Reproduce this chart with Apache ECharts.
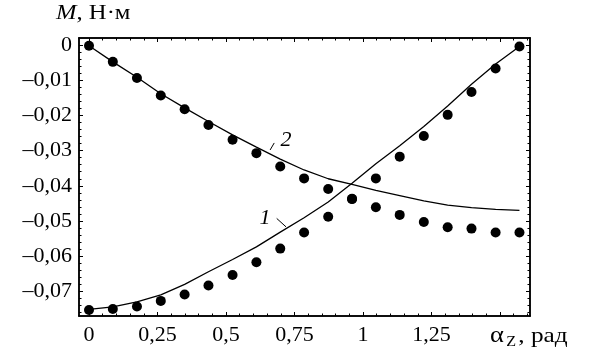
<!DOCTYPE html>
<html>
<head>
<meta charset="utf-8">
<script src="https://cdn.jsdelivr.net/npm/echarts@6/dist/echarts.min.js"></script>
<style>
  html, body { margin: 0; padding: 0; background: #fff; }
  #chart { width: 591px; height: 357px; }
</style>
</head>
<body>
<div id="chart"></div>
<script>
// angle alpha_z, rad (5 degree steps)
var alpha = [0, 0.087, 0.175, 0.262, 0.349, 0.436, 0.524, 0.611, 0.698, 0.785,
             0.873, 0.960, 1.047, 1.134, 1.222, 1.309, 1.396, 1.484, 1.571];
// measured points, N*m
var dots1 = [-0.0754, -0.0751, -0.0744, -0.0728, -0.0710, -0.0684, -0.0654, -0.0618, -0.0579, -0.0533,
             -0.0488, -0.0438, -0.0379, -0.0317, -0.0258, -0.0198, -0.0133, -0.0066, -0.0003];
var dots2 = [-0.0001, -0.0047, -0.0093, -0.0143, -0.0182, -0.0227, -0.0269, -0.0307, -0.0345, -0.0379,
             -0.0409, -0.0437, -0.0461, -0.0483, -0.0503, -0.0518, -0.0522, -0.0533, -0.0533];
// calculated curves 1 and 2
var curve1 = [-0.0752, -0.0745, -0.0731, -0.0711, -0.0681, -0.0645, -0.0610, -0.0574, -0.0532, -0.0491,
              -0.0446, -0.0393, -0.0337, -0.0286, -0.0231, -0.0173, -0.0111, -0.0053, -0.0003];
var curve2 = [-0.0001, -0.0047, -0.0091, -0.0138, -0.0178, -0.0217, -0.0255, -0.0290, -0.0324, -0.0355,
              -0.0380, -0.0396, -0.0413, -0.0428, -0.0443, -0.0455, -0.0462, -0.0467, -0.0470];

var xTicks = [0, 0.25, 0.5, 0.75, 1, 1.25, 1.5];
var xTickLabels = ['0', '0,25', '0,5', '0,75', '1', '1,25', ''];
var yTicks = [0, -0.01, -0.02, -0.03, -0.04, -0.05, -0.06, -0.07];
var yTickLabels = ['0', '\u20130,01', '\u20130,02', '\u20130,03', '\u20130,04', '\u20130,05', '\u20130,06', '\u20130,07'];

var xMin = -0.0365, xMax = 1.6095;
var yMin = -0.0771, yMax = 0.0021;

var xMinor = [];
for (var i = 1; i <= 32; i++) xMinor.push(+(i * 0.05).toFixed(2));
var yMinor = [];
for (var j = -1; j >= -38; j--) yMinor.push(+(j * 0.002).toFixed(3));

var FONT = '"Liberation Serif", "DejaVu Serif", serif';

function pairs(xs, ys) {
  var out = [];
  for (var k = 0; k < xs.length; k++) out.push([xs[k], ys[k]]);
  return out;
}

function xAx(pos, vals, len, labels) {
  return {
    type: 'value', position: pos, min: xMin, max: xMax,
    axisLine: { show: true, onZero: false, lineStyle: { color: '#000', width: 1.5 } },
    axisTick: { show: true, inside: true, length: len, customValues: vals, lineStyle: { color: '#000', width: 1 } },
    axisLabel: labels ? {
      show: true, customValues: xTicks.slice(0, 6), margin: 8,
      fontFamily: FONT, fontSize: 22, color: '#000',
      formatter: function (v) {
        for (var k = 0; k < xTicks.length; k++) if (Math.abs(xTicks[k] - v) < 1e-6) return xTickLabels[k];
        return '';
      }
    } : { show: false },
    splitLine: { show: false }
  };
}

function yAx(pos, vals, len, labels) {
  return {
    type: 'value', position: pos, min: yMin, max: yMax,
    axisLine: { show: true, onZero: false, lineStyle: { color: '#000', width: 1.5 } },
    axisTick: { show: true, inside: true, length: len, customValues: vals, lineStyle: { color: '#000', width: 1 } },
    axisLabel: labels ? {
      show: true, customValues: yTicks, margin: 7,
      fontFamily: FONT, fontSize: 22, color: '#000',
      formatter: function (v) {
        for (var k = 0; k < yTicks.length; k++) if (Math.abs(yTicks[k] - v) < 1e-7) return yTickLabels[k];
        return '';
      }
    } : { show: false },
    splitLine: { show: false }
  };
}

var myChart = echarts.init(document.getElementById('chart'));

var option = {
  animation: false,
  grid: { left: 79, right: 61, top: 38, bottom: 41, containLabel: false },
  xAxis: [
    xAx('bottom', xTicks, 4, true),
    xAx('bottom', xMinor, 2.5, false),
    xAx('top', xTicks, 4, false),
    xAx('top', xMinor, 2.5, false)
  ],
  yAxis: [
    yAx('left', yTicks, 4, true),
    yAx('left', yMinor, 2.5, false),
    yAx('right', yTicks, 4, false),
    yAx('right', yMinor, 2.5, false)
  ],
  series: [
    {
      type: 'line', data: pairs(alpha, curve1), showSymbol: false, silent: true,
      lineStyle: { color: '#000', width: 1.3 }
    },
    {
      type: 'line', data: pairs(alpha, curve2), showSymbol: false, silent: true,
      lineStyle: { color: '#000', width: 1.3 }
    },
    {
      type: 'scatter', data: pairs(alpha, dots1), symbolSize: 10,
      itemStyle: { color: '#000', opacity: 1 }
    },
    {
      type: 'scatter', data: pairs(alpha, dots2), symbolSize: 10,
      itemStyle: { color: '#000', opacity: 1 }
    }
  ],
  graphic: [
    {
      type: 'text', x: 56, y: 2, scaleX: 1.12,
      style: {
        text: '{i|M}, Н·м',
        font: '22px ' + FONT, fill: '#000',
        rich: { i: { fontStyle: 'italic', fontFamily: FONT, fontSize: 22 } }
      }
    },
    {
      type: 'text', x: 490, y: 323, scaleX: 1.15,
      style: {
        text: '{a|α}{z|Z}, рад',
        font: '22px ' + FONT, fill: '#000',
        rich: {
          a: { fontFamily: FONT, fontSize: 23 },
          z: { fontFamily: FONT, fontSize: 14, padding: [12, 2, 0, 2] }
        }
      }
    }
  ]
};

myChart.setOption(option);

// curve number labels with short leader strokes, placed in data coordinates
var curveLabels = [
  { text: '1', at: [0.642, -0.0493], from: [0.685, -0.0493], to: [0.719, -0.0517] },
  { text: '2', at: [0.719, -0.0270], from: [0.676, -0.0278], to: [0.661, -0.0298] }
];
var extra = [];
curveLabels.forEach(function (c) {
  var p = myChart.convertToPixel({ xAxisIndex: 0, yAxisIndex: 0 }, c.at);
  var a = myChart.convertToPixel({ xAxisIndex: 0, yAxisIndex: 0 }, c.from);
  var b = myChart.convertToPixel({ xAxisIndex: 0, yAxisIndex: 0 }, c.to);
  extra.push({
    type: 'text', x: p[0], y: p[1],
    style: { text: c.text, font: 'italic 22px ' + FONT, fill: '#000', align: 'center', verticalAlign: 'middle' }
  });
  extra.push({
    type: 'line', shape: { x1: a[0], y1: a[1], x2: b[0], y2: b[1] },
    style: { stroke: '#000', lineWidth: 1 }
  });
});
myChart.setOption({ graphic: option.graphic.concat(extra) });
window.onresize = myChart.resize;
</script>
</body>
</html>
